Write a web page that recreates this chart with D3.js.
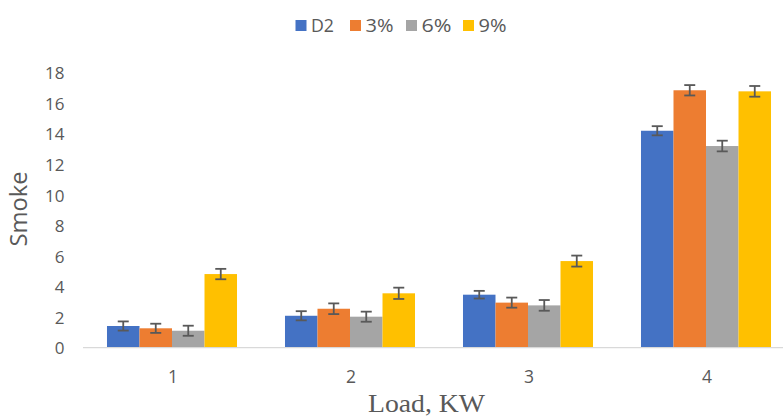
<!DOCTYPE html>
<html><head><meta charset="utf-8">
<script src="https://cdn.jsdelivr.net/npm/d3@7"></script>
<style>body{margin:0;background:#fff;} svg{display:block;}</style>
</head><body>
<svg id="c" width="783" height="418"></svg>
<script>
const categories = ["1","2","3","4"];
const seriesNames = ["D2","3%","6%","9%"];
const colors = ["#4472C4","#ED7D31","#A5A5A5","#FFC000"];
const valD2  = [1.42, 2.09, 3.47, 14.2];
const val3   = [1.27, 2.55, 2.95, 16.85];
const val6   = [1.11, 2.03, 2.77, 13.2];
const val9   = [4.82, 3.56, 5.67, 16.78];
const errD2  = [0.30, 0.30, 0.25, 0.30];
const err3   = [0.30, 0.35, 0.33, 0.34];
const err6   = [0.33, 0.33, 0.35, 0.35];
const err9   = [0.34, 0.37, 0.36, 0.35];
const yTicks = [0,2,4,6,8,10,12,14,16,18];

const values = [valD2, val3, val6, val9];
const errs = [errD2, err3, err6, err9];
const FONT = "'Open Sans', sans-serif";

const svg = d3.select("#c");
const x = d3.scaleBand().domain(categories).range([83, 795]).padding(0);
const xi = d3.scaleBand().domain(seriesNames).range([0, x.bandwidth()]).paddingInner(0).paddingOuter(0.738);
const y = d3.scaleLinear().domain([0, 18]).range([347.7, 72.7]);

const data = [];
categories.forEach((c, ci) => seriesNames.forEach((s, si) => data.push({c, s, si, v: values[si][ci], e: errs[si][ci]})));

// bars
svg.append("g").selectAll("rect").data(data).join("rect")
  .attr("x", d => x(d.c) + xi(d.s))
  .attr("width", xi.bandwidth())
  .attr("y", d => y(d.v))
  .attr("height", d => y(0) - y(d.v))
  .attr("fill", d => colors[d.si]);

// axis line
svg.append("line").attr("x1", 83).attr("x2", 795).attr("y1", y(0)).attr("y2", y(0))
  .attr("stroke", "#d9d9d9").attr("stroke-width", 1.3);

// error bars
const eg = svg.append("g").attr("stroke", "#595959").attr("stroke-width", 1.8);
data.forEach(d => {
  const cx = x(d.c) + xi(d.s) + xi.bandwidth() / 2;
  eg.append("line").attr("x1", cx).attr("x2", cx).attr("y1", y(d.v + d.e)).attr("y2", y(d.v - d.e));
  [d.v + d.e, d.v - d.e].forEach(t => eg.append("line").attr("x1", cx - 5.5).attr("x2", cx + 5.5).attr("y1", y(t)).attr("y2", y(t)));
});

// y axis labels
const yAxis = d3.axisLeft(y).tickValues(yTicks).tickSize(0).tickPadding(0);
const ya = svg.append("g").attr("transform", "translate(64.5,0)").call(yAxis);
ya.select(".domain").remove();
ya.selectAll("text").attr("font-family", FONT).attr("font-size", 17).attr("fill", "#595959").attr("dy", "0.36em");

// x axis labels
const xAxis = d3.axisBottom(x).tickSize(0).tickPadding(0);
const xa = svg.append("g").attr("transform", "translate(1,382.7)").call(xAxis);
xa.select(".domain").remove();
xa.selectAll("text").attr("font-family", FONT).attr("font-size", 17.5).attr("fill", "#595959").attr("dy", "0");

// axis titles
svg.append("text").attr("transform", "translate(27,209) rotate(-90)").attr("text-anchor", "middle")
  .attr("font-family", FONT).attr("font-size", 23).attr("fill", "#595959")
  .attr("textLength", 75).attr("lengthAdjust", "spacingAndGlyphs").text("Smoke");
svg.append("text").attr("x", 426.5).attr("y", 412).attr("text-anchor", "middle")
  .attr("font-family", "'Liberation Serif', serif").attr("font-size", 26).attr("fill", "#595959")
  .attr("textLength", 117).attr("lengthAdjust", "spacingAndGlyphs").text("Load, KW");

// legend
const legX = [295.5, 350, 406, 463];
const legW = [23, 28, 30, 28];
const lg = svg.append("g");
seriesNames.forEach((s, i) => {
  lg.append("rect").attr("x", legX[i]).attr("y", 20).attr("width", 11).attr("height", 11).attr("fill", colors[i]);
  lg.append("text").attr("x", legX[i] + 15.5).attr("y", 31.7).attr("font-family", FONT)
    .attr("font-size", 19).attr("fill", "#595959")
    .attr("textLength", legW[i]).attr("lengthAdjust", "spacingAndGlyphs").text(s);
});
</script>
</body></html>
